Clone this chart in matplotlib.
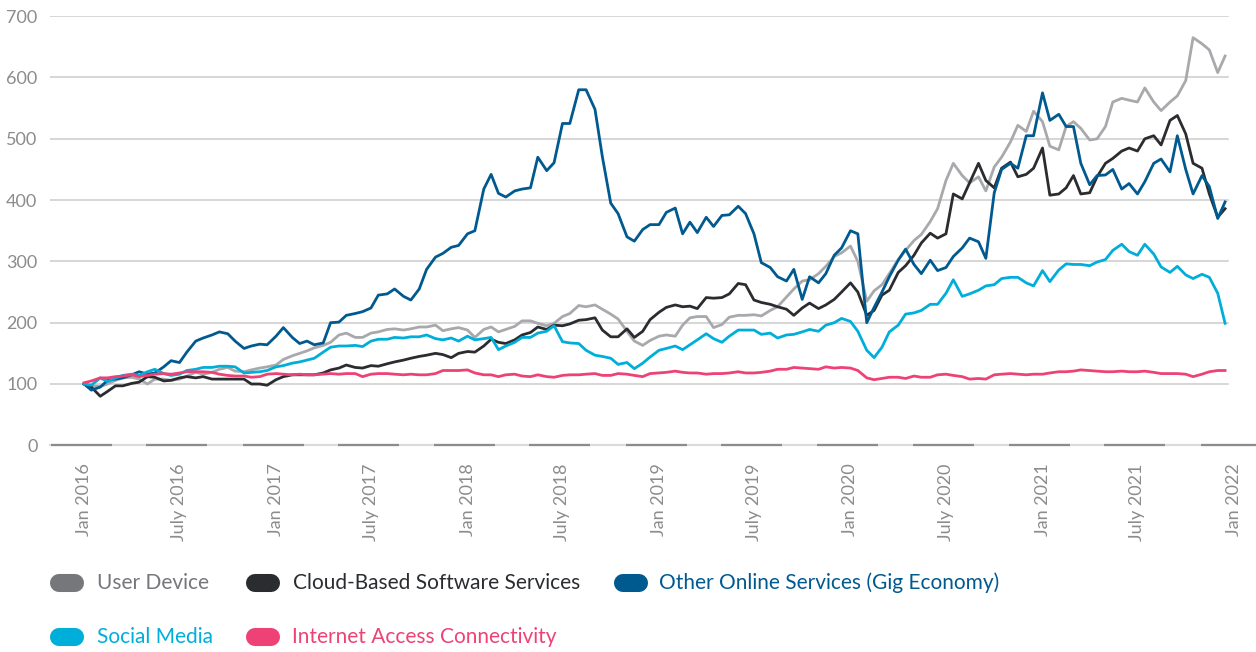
import matplotlib
matplotlib.use("Agg")
import matplotlib.pyplot as plt
import matplotlib.dates as mdates
from matplotlib.lines import Line2D
from matplotlib.transforms import IdentityTransform
import pandas as pd

# ---------------------------------------------- data (index, Jan 2016 = 100), twice a month
dates = pd.date_range("2016-01-01", periods=144, freq="SMS")

user_device = [
    100, 97, 96, 100, 106, 110, 111, 108, 100, 108, 108, 106, 108, 113, 119, 116, 119, 124, 127, 121,
    120, 123, 126, 128, 131, 140, 146, 150, 154, 159, 163, 168, 180, 183, 176, 176, 183, 185, 189, 190,
    188, 190, 193, 193, 196, 187, 190, 192,
    188, 176, 189, 193, 185, 189, 194, 203, 203, 199, 195, 199, 210, 215, 228, 226, 229, 222, 214, 206,
    186, 170, 163, 171, 178, 180, 178, 196, 208, 210, 210, 192, 197, 209, 212, 212, 213, 211, 220, 226,
    242, 255, 268, 270, 280, 292, 308, 314, 325, 300,
    235, 252, 262, 280, 303, 318, 334, 344, 365, 386, 432, 460, 440, 428, 438, 415, 454, 470, 495, 522,
    512, 545, 528, 488, 482, 520, 528, 517, 498, 500, 520, 560, 566, 563, 560, 583, 560, 546, 560, 570,
    595, 665, 655, 645, 608, 635,
]
cloud = [
    100, 95, 80, 88, 97, 97, 101, 103, 112, 111, 105, 106, 110, 112, 110, 112, 108, 108, 108, 108,
    108, 100, 100, 98, 107, 112, 115, 115, 115, 115, 118, 123, 126, 131, 127, 126, 130, 129, 133, 136,
    139, 142, 145, 147, 150, 148, 143, 150,
    153, 152, 162, 173, 168, 166, 172, 180, 184, 193, 189, 196, 195, 198, 204, 205, 208, 188, 177, 177,
    190, 176, 186, 205, 217, 225, 229, 226, 227, 223, 241, 240, 241, 247, 264, 262, 237, 233, 230, 226,
    222, 212, 224, 232, 223, 229, 238, 250, 265, 250,
    212, 220, 245, 253, 282, 293, 310, 330, 346, 338, 345, 410, 402, 428, 460, 432, 420, 452, 462, 438,
    442, 452, 485, 408, 410, 420, 440, 410, 412, 438, 460, 468, 480, 485, 480, 500, 505, 490, 530, 538,
    508, 460, 452, 410, 372, 386,
]
gig_economy = [
    100, 90, 95, 106, 108, 110, 115, 120, 116, 118, 128, 138, 135, 152, 170, 175, 180, 185, 182, 170,
    158, 162, 165, 164, 178, 192, 176, 166, 170, 164, 167, 200, 201, 212, 215, 218, 224, 245, 247, 255,
    243, 237, 255, 287, 307, 313, 323, 326,
    345, 350, 418, 442, 411, 405, 415, 418, 420, 470, 448, 461, 525, 525, 580, 580, 548, 471, 395, 378,
    340, 333, 352, 360, 360, 380, 387, 345, 364, 347, 372, 357, 375, 376, 390, 378, 345, 298, 290, 275,
    268, 287, 238, 275, 265, 280, 310, 322, 350, 345,
    200, 225, 250, 275, 302, 320, 295, 280, 302, 285, 290, 308, 322, 338, 332, 305, 412, 450, 460, 452,
    505, 505, 575, 530, 540, 520, 520, 460, 425, 440, 441, 450, 418, 427, 410, 430, 460, 467, 446, 505,
    450, 410, 440, 422, 370, 397,
]
social_media = [
    100, 98, 110, 104, 110, 114, 116, 114, 120, 124, 117, 114, 116, 122, 124, 127, 127, 129, 129, 128,
    118, 119, 120, 122, 128, 130, 134, 136, 139, 142, 152, 160, 162, 162, 163, 161, 170, 173, 173, 176,
    175, 177, 177, 180, 174, 172, 175, 170,
    178, 172, 174, 176, 156, 162, 168, 176, 176, 183, 186, 195, 169, 167, 166, 155, 147, 145, 142, 132,
    135, 125, 134, 144, 155, 158, 162, 156, 164, 172, 182, 174, 168, 178, 188, 188, 188, 181, 183, 175,
    180, 181, 185, 189, 186, 196, 200, 207, 202, 186,
    155, 143, 160, 185, 196, 214, 216, 220, 230, 230, 248, 270, 243, 247, 253, 260, 262, 272, 274, 274,
    265, 260, 285, 267, 286, 296, 295, 295, 293, 299, 303, 318, 328, 316, 310, 328, 312, 291, 282, 292,
    278, 272, 279, 274, 248, 199,
]
internet_access = [
    102, 105, 110, 110, 112, 113, 115, 112, 114, 116, 117, 116, 118, 120, 120, 120, 119, 116, 114, 113,
    113, 111, 112, 116, 117, 116, 115, 116, 115, 115, 116, 117, 116, 117, 117, 112, 116, 117, 117, 116,
    115, 116, 115, 115, 117, 122, 122, 122,
    123, 118, 115, 115, 112, 115, 116, 113, 112, 115, 112, 111, 114, 115, 115, 116, 117, 114, 114, 117,
    116, 114, 112, 117, 118, 119, 121, 119, 118, 118, 116, 117, 117, 118, 120, 118, 118, 119, 121, 124,
    124, 127, 126, 125, 124, 128, 126, 127, 126, 122,
    110, 107, 109, 111, 111, 109, 113, 111, 111, 115, 116, 114, 112, 108, 109, 108, 115, 116, 117, 116,
    115, 116, 116, 118, 120, 120, 121, 123, 122, 121, 120, 120, 121, 120, 120, 121, 119, 117, 117, 117,
    116, 112, 116, 120, 122, 122,
]

series_names = ["User Device", "Cloud-Based Software Services", "Other Online Services (Gig Economy)",
                "Social Media", "Internet Access Connectivity"]
line_colors = ["#A7A9AC", "#2A2C2F", "#005A8F", "#00AEDA", "#EE4277"]
legend_colors = ["#76777A", "#2A2C2F", "#005A8F", "#00AEDA", "#EE4277"]

tick_dates = pd.date_range("2016-01-01", "2022-01-01", freq="6MS")
tick_labels = [("Jan " if d.month == 1 else "July ") + str(d.year) for d in tick_dates]

# ---------------------------------------------- figure
W, H = 1256, 652
plt.rcParams["font.family"] = ["Lato", "DejaVu Sans"]
fig = plt.figure(figsize=(W / 100, H / 100), dpi=100)

y0_px, y700_px = 445.3, 16.2
ax = fig.add_axes([50 / W, 1 - y0_px / H, (W - 50) / W, (y0_px - y700_px) / H])

start = mdates.date2num(pd.Timestamp("2016-01-01"))
px_per_day = 1150 / 2192
ax.set_xlim(start - 34 / px_per_day, start + (W - 84) / px_per_day)
ax.set_ylim(0, 700)

# grid lines stop a little short of the right edge
grid_end = (1228 - 50) / (W - 50)
for v in range(100, 701, 100):
    ax.axhline(v, xmin=0, xmax=grid_end, color="#CCCCCC", lw=1.1, zorder=0)

# base line: light full line with darker pieces at each label
ax.axhline(0, color="#DCDCDC", lw=1.6, zorder=1, clip_on=False)
for d in tick_dates:
    ax.plot([d - pd.Timedelta(days=63), d + pd.Timedelta(days=53)], [0, 0],
            color="#8C8C8C", lw=1.6, solid_capstyle="butt", zorder=2, clip_on=False)

all_series = [user_device, cloud, gig_economy, social_media, internet_access]
for vals, col in zip(all_series, line_colors):
    ax.plot(dates, vals, color=col, lw=2.0, zorder=3, solid_joinstyle="round")

for s in ax.spines.values():
    s.set_visible(False)
ax.set_yticks(range(0, 701, 100))
ax.set_xticks(tick_dates)
ax.set_xticklabels(tick_labels, rotation=90, ha="center", va="top")
ax.tick_params(axis="both", length=0, labelsize=13, labelcolor="#8C8C8C")
ax.tick_params(axis="y", pad=9)
ax.tick_params(axis="x", pad=13)

# ---------------------------------------------- legend (pixel positions)
legend_rows = [(583, 0, 50, 97), (583, 1, 246, 293), (583, 2, 614, 659),
               (637, 3, 50, 97), (637, 4, 246, 292)]
for y_img, k, pill_x, text_x in legend_rows:
    yd = H - y_img
    fig.add_artist(Line2D([pill_x + 9, pill_x + 25], [yd, yd], lw=13, color=legend_colors[k],
                          solid_capstyle="round", transform=IdentityTransform()))
    fig.text(text_x, yd, series_names[k], color=legend_colors[k], fontsize=15,
             va="center", ha="left", transform=IdentityTransform())

fig.savefig("out.png", dpi=100)
